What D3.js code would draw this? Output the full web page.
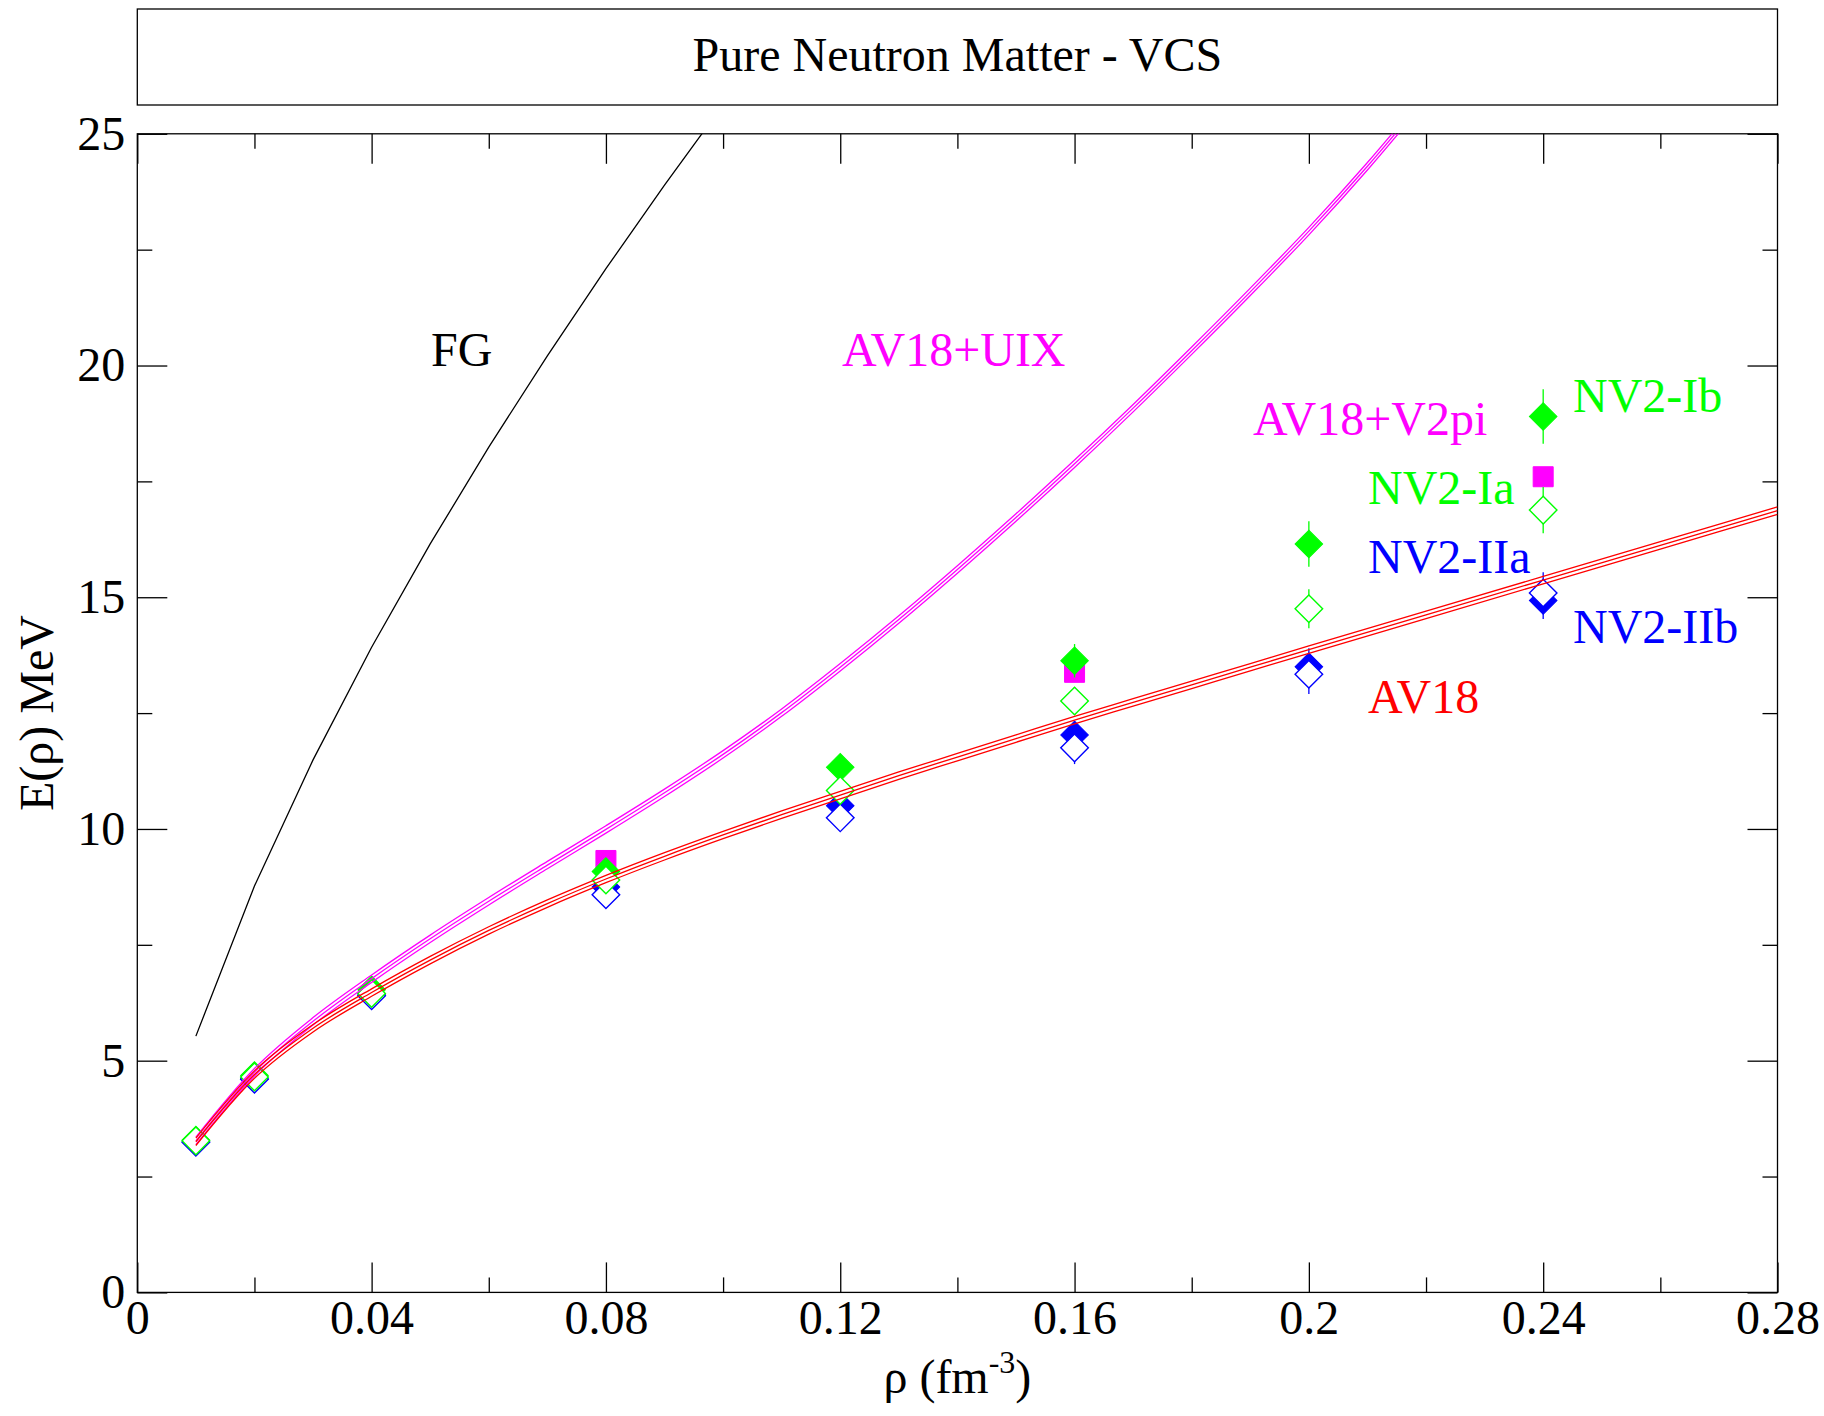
<!DOCTYPE html>
<html><head><meta charset="utf-8">
<script src="https://cdn.jsdelivr.net/npm/d3@7/dist/d3.min.js"></script>
<style>
body{margin:0;background:#fff}
svg{display:block}
text{font-family:"Liberation Serif","Times New Roman",Times,serif}
</style>
</head><body>
<svg id="chart" width="1824" height="1416"></svg>
<script>
// ---------------- data ----------------
const fgRho = [0.01,0.02,0.03,0.04,0.05,0.06,0.07,0.08,0.09,0.10];
const fgE   = [5.53,8.77,11.49,13.92,16.15,18.24,20.21,22.09,23.89,25.63];

const av18Rho = [0.01,0.02,0.03,0.04,0.05,0.06,0.07,0.08,0.09,0.10,0.11,0.12,0.13,0.14,0.15,0.16,0.17,0.18,0.19,0.20,0.22,0.24,0.26,0.28];
const av18E   = [3.25,4.70,5.70,6.47,7.17,7.81,8.39,8.92,9.41,9.87,10.31,10.73,11.15,11.55,11.95,12.35,12.73,13.11,13.49,13.87,14.62,15.37,16.12,16.87];

const uixRho = [0.01,0.02,0.03,0.04,0.05,0.06,0.07,0.08,0.09,0.10,0.11,0.12,0.13,0.14,0.15,0.16,0.17,0.18,0.19,0.20,0.21,0.22];
const uixE   = [3.27,4.75,5.85,6.77,7.63,8.44,9.22,9.99,10.78,11.61,12.51,13.49,14.52,15.60,16.72,17.88,19.08,20.32,21.59,22.90,24.30,25.80];

const bandHalfWidth = 0.08; // MeV, width of the triple-line bands

const nvRho     = [0.01,0.02,0.04,0.08,0.12,0.16,0.20,0.24];
const nv2IaE    = [3.27,4.65,6.45,8.90,10.83,12.76,14.75,16.88];
const nv2IaErr  = [0.02,0.03,0.05,0.10,0.20,0.30,0.42,0.50];
const nv2IbE    = [3.29,4.68,6.53,9.08,11.33,13.63,16.15,18.90];
const nv2IbErr  = [0.02,0.03,0.05,0.10,0.20,0.36,0.49,0.59];
const nv2IIaE   = [3.24,4.60,6.40,8.58,10.24,11.75,13.34,15.09];
const nv2IIaErr = [0.02,0.03,0.05,0.10,0.20,0.35,0.43,0.45];
const nv2IIbE   = [3.25,4.62,6.42,8.75,10.50,12.03,13.50,14.93];
const nv2IIbErr = [0.02,0.03,0.05,0.10,0.20,0.30,0.40,0.40];

const v2piRho = [0.08,0.16,0.24];
const v2piE   = [9.32,13.38,17.60];

const xTicks = [0,0.04,0.08,0.12,0.16,0.20,0.24,0.28];
const xTickLabels = ["0","0.04","0.08","0.12","0.16","0.2","0.24","0.28"];
const xMinor = [0.02,0.06,0.10,0.14,0.18,0.22,0.26];
const yTicks = [0,5,10,15,20,25];
const yTickLabels = ["0","5","10","15","20","25"];
const yMinor = [2.5,7.5,12.5,17.5,22.5];

const title = "Pure Neutron Matter - VCS";

// ---------------- layout ----------------
const L = 137.3, R = 1777.5, T = 133.8, B = 1292.4;
const svg = d3.select("#chart");
const x = d3.scaleLinear().domain([0,0.28]).range([L,R]);
const y = d3.scaleLinear().domain([0,25]).range([B,T]);

const GREEN="#00ff00", BLUE="#0000ff", MAG="#ff00ff", RED="#ff0000";
const FS = 48;

svg.append("defs").append("clipPath").attr("id","plotclip")
  .append("rect").attr("x",L).attr("y",T).attr("width",R-L).attr("height",B-T);

// title box
svg.append("rect").attr("x",L).attr("y",9).attr("width",R-L).attr("height",96)
  .attr("fill","none").attr("stroke","#000").attr("stroke-width",1.3);
svg.append("text").attr("x",(L+R)/2).attr("y",71).attr("text-anchor","middle")
  .attr("font-size",FS).text(title);

// axes
function styleAxis(g){
  g.select(".domain").remove();
  g.selectAll(".tick line").attr("stroke","#000").attr("stroke-width",1.3);
  g.selectAll("text").attr("font-size",FS).attr("font-family",'"Liberation Serif","Times New Roman",serif').attr("fill","#000");
}
svg.append("g").attr("transform",`translate(0,${B})`)
  .call(d3.axisBottom(x).tickValues(xTicks).tickFormat((d,i)=>xTickLabels[i]).tickSizeInner(-30).tickSizeOuter(0).tickPadding(8))
  .call(styleAxis);
svg.append("g").attr("transform",`translate(0,${B})`)
  .call(d3.axisBottom(x).tickValues(xMinor).tickFormat("").tickSizeInner(-15).tickSizeOuter(0))
  .call(styleAxis);
svg.append("g").attr("transform",`translate(0,${T})`)
  .call(d3.axisTop(x).tickValues(xTicks).tickFormat("").tickSizeInner(-30).tickSizeOuter(0))
  .call(styleAxis);
svg.append("g").attr("transform",`translate(0,${T})`)
  .call(d3.axisTop(x).tickValues(xMinor).tickFormat("").tickSizeInner(-15).tickSizeOuter(0))
  .call(styleAxis);
svg.append("g").attr("transform",`translate(${L},0)`)
  .call(d3.axisLeft(y).tickValues(yTicks).tickFormat((d,i)=>yTickLabels[i]).tickSizeInner(-30).tickSizeOuter(0).tickPadding(12))
  .call(styleAxis);
svg.append("g").attr("transform",`translate(${L},0)`)
  .call(d3.axisLeft(y).tickValues(yMinor).tickFormat("").tickSizeInner(-15).tickSizeOuter(0))
  .call(styleAxis);
svg.append("g").attr("transform",`translate(${R},0)`)
  .call(d3.axisRight(y).tickValues(yTicks).tickFormat("").tickSizeInner(-30).tickSizeOuter(0))
  .call(styleAxis);
svg.append("g").attr("transform",`translate(${R},0)`)
  .call(d3.axisRight(y).tickValues(yMinor).tickFormat("").tickSizeInner(-15).tickSizeOuter(0))
  .call(styleAxis);

// frame
svg.append("rect").attr("x",L).attr("y",T).attr("width",R-L).attr("height",B-T)
  .attr("fill","none").attr("stroke","#000").attr("stroke-width",1.3);

// axis labels
svg.append("text").attr("transform",`translate(53,${(T+B)/2}) rotate(-90)`)
  .attr("text-anchor","middle").attr("font-size",FS).text("E(ρ) MeV");
const xl = svg.append("text").attr("x",(L+R)/2).attr("y",1393).attr("text-anchor","middle").attr("font-size",FS);
xl.append("tspan").text("ρ (fm");
xl.append("tspan").attr("font-size",32).attr("dy",-20).text("-3");
xl.append("tspan").attr("dy",20).text(")");

// ---------------- points ----------------
const plot = svg.append("g").attr("clip-path","url(#plotclip)");
const diamond = d3.symbol().type(d3.symbolSquare).size(380)();
const square = d3.symbol().type(d3.symbolSquare).size(400)();

function series(rho, E, err, color, filled, shape){
  const g = plot.append("g");
  if(err){
    g.selectAll("line").data(rho).join("line")
      .attr("x1",d=>x(d)).attr("x2",d=>x(d))
      .attr("y1",(d,i)=>y(E[i]+err[i])).attr("y2",(d,i)=>y(E[i]-err[i]))
      .attr("stroke",color).attr("stroke-width",1.3);
  }
  g.selectAll("path").data(rho).join("path")
    .attr("d", shape==="square"?square:diamond)
    .attr("transform",(d,i)=>`translate(${x(d)},${y(E[i])})` + (shape==="square"?"":" rotate(45)"))
    .attr("fill", filled?color:"#fff")
    .attr("stroke",color).attr("stroke-width", filled?1:1.4);
}
series(v2piRho, v2piE, null, MAG, true, "square");
series(nvRho, nv2IIbE, nv2IIbErr, BLUE, true);
series(nvRho, nv2IIaE, nv2IIaErr, BLUE, false);
series(nvRho, nv2IbE, nv2IbErr, GREEN, true);
series(nvRho, nv2IaE, nv2IaErr, GREEN, false);

// ---------------- curves ----------------
function band(rho, E, color){
  [-bandHalfWidth, 0, bandHalfWidth].forEach(off=>{
    const line = d3.line().x((d)=>x(d)).y((d,i)=>y(E[i]+off)).curve(d3.curveMonotoneX);
    plot.append("path").attr("d", line(rho)).attr("fill","none")
      .attr("stroke",color).attr("stroke-width",1.3);
  });
}
band(uixRho, uixE, MAG);
band(av18Rho, av18E, RED);
plot.append("path").attr("d", d3.line().x(d=>x(d)).y((d,i)=>y(fgE[i]))(fgRho))
  .attr("fill","none").attr("stroke","#000").attr("stroke-width",1.3);

// ---------------- labels ----------------
const labels = [
  {t:"FG", x:431, y:366, c:"#000"},
  {t:"AV18+UIX", x:842, y:366, c:MAG},
  {t:"AV18+V2pi", x:1253, y:435, c:MAG},
  {t:"NV2-Ib", x:1573, y:412, c:GREEN},
  {t:"NV2-Ia", x:1368, y:504, c:GREEN},
  {t:"NV2-IIa", x:1368, y:573, c:BLUE},
  {t:"NV2-IIb", x:1573, y:643, c:BLUE},
  {t:"AV18", x:1368, y:713, c:RED}
];
svg.selectAll("text.lbl").data(labels).join("text").attr("class","lbl")
  .attr("x",d=>d.x).attr("y",d=>d.y).attr("fill",d=>d.c).attr("font-size",FS).text(d=>d.t);
</script>
</body></html>
